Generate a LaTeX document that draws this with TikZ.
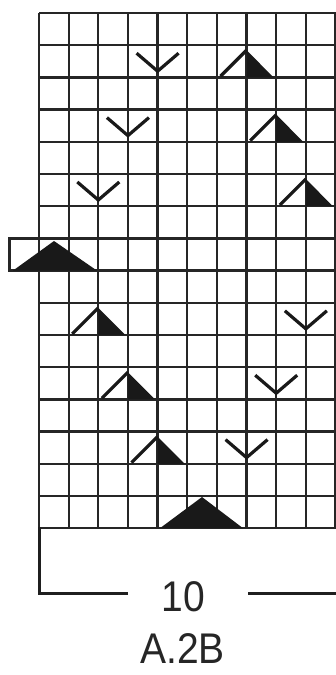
\documentclass[tikz,border=0pt]{standalone}
\usepackage{fontspec}
\setmainfont{Liberation Sans}
\usepackage{graphicx}
\newcommand\decstitch[2]{%
  \pgfmathsetmacro\ax{39+#1*29.65}%
  \pgfmathsetmacro\ty{13+(#2-1)*32.2}%
  \fill[symfill] (\ax,\ty+5) -- (\ax+27,\ty+32.2) -- (\ax,\ty+32.2) -- cycle;
  \draw[symline] (\ax-26,\ty+31) -- (\ax,\ty+5);
}
\newcommand\vstitch[2]{%
  \pgfmathsetmacro\cx{39+#1*29.65}%
  \pgfmathsetmacro\ty{13+(#2-1)*32.2}%
  \draw[symline] (\cx-21,\ty+8) -- (\cx,\ty+26) -- (\cx+21,\ty+8);
}
\begin{document}
\begin{tikzpicture}[x=1pt,y=-1pt,
  gridline/.style={line width=2.3pt, draw=black!85},
  symline/.style={line width=3.2pt, draw=black!90},
  symfill/.style={fill=black!90},
  bracket/.style={line width=3pt, draw=black!88},
  lbl/.style={text=black!85, font=\fontsize{39}{39}\selectfont, inner sep=0pt}]
\useasboundingbox (0,0) rectangle (336,675);
\fill[white] (0,0) rectangle (336,675);
% grid
\foreach \i in {0,...,10} \draw[gridline] ({39+\i*29.65},13) -- ({39+\i*29.65},528.2);
\foreach \j in {0,...,16} \draw[gridline] (39,{13+\j*32.2}) -- (336,{13+\j*32.2});
\draw[gridline] (39,238.4) -- (9.5,238.4) -- (9.5,270.6) -- (39,270.6);
% decreases (half-filled triangles)
\decstitch{7}{2}
\decstitch{8}{4}
\decstitch{9}{6}
\decstitch{2}{10}
\decstitch{3}{12}
\decstitch{4}{14}
% V symbols
\vstitch{4}{2}
\vstitch{3}{4}
\vstitch{2}{6}
\vstitch{9}{10}
\vstitch{8}{12}
\vstitch{7}{14}
% big triangles
\fill[symfill] (13,270.6) -- (54,241) -- (97,270.6) -- cycle;
\fill[symfill] (160,528.2) -- (202,497) -- (243,528.2) -- cycle;
% bracket
\draw[bracket] (128,593) -- (39,593) -- (39,527);
\draw[bracket] (248,593) -- (336,593);
\node[lbl] (ten) at (183.5,597) {\scalebox{1}[1.1]{10}};
\node[lbl] (title) at (182.5,649) {\scalebox{1}[1.1]{A.2B}};
\end{tikzpicture}
\end{document}
